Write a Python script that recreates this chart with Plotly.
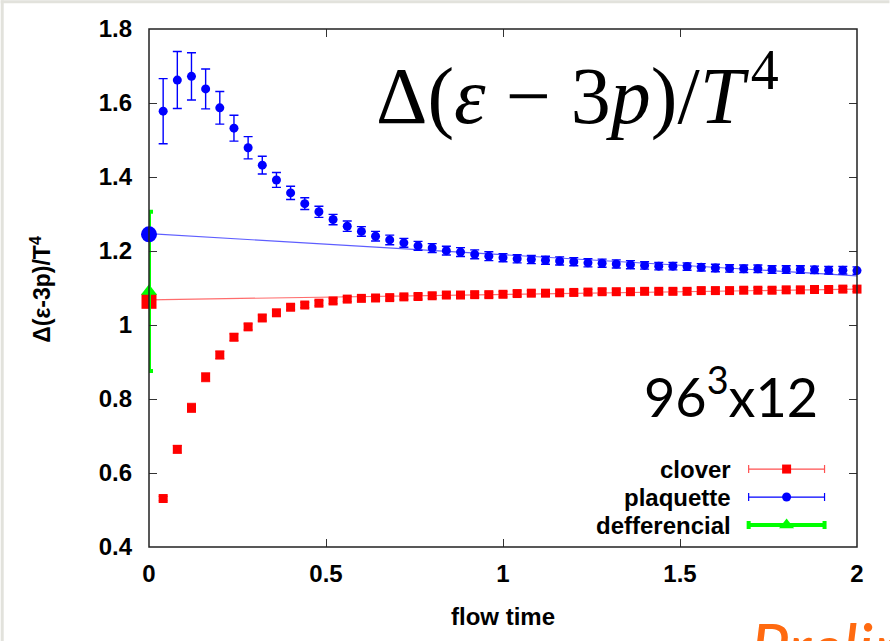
import plotly.graph_objects as go

# ---- data ---------------------------------------------------------------
flow_time = [0.04, 0.08, 0.12, 0.16, 0.20, 0.24, 0.28, 0.32, 0.36, 0.40,
             0.44, 0.48, 0.52, 0.56, 0.60, 0.64, 0.68, 0.72, 0.76, 0.80,
             0.84, 0.88, 0.92, 0.96, 1.00, 1.04, 1.08, 1.12, 1.16, 1.20,
             1.24, 1.28, 1.32, 1.36, 1.40, 1.44, 1.48, 1.52, 1.56, 1.60,
             1.64, 1.68, 1.72, 1.76, 1.80, 1.84, 1.88, 1.92, 1.96, 2.00]

plaquette = [1.578, 1.662, 1.672, 1.638, 1.587, 1.532, 1.479, 1.432, 1.392, 1.357,
             1.328, 1.306, 1.285, 1.267, 1.253, 1.240, 1.230, 1.222, 1.214, 1.208,
             1.201, 1.197, 1.191, 1.186, 1.182, 1.179, 1.177, 1.175, 1.173, 1.171,
             1.168, 1.167, 1.165, 1.163, 1.161, 1.159, 1.159, 1.158, 1.156, 1.154,
             1.153, 1.152, 1.152, 1.150, 1.150, 1.150, 1.149, 1.148, 1.148, 1.147]
plaquette_err = [0.088, 0.077, 0.064, 0.054, 0.044, 0.035, 0.030, 0.024, 0.020, 0.018,
                 0.016, 0.015, 0.014, 0.014, 0.013, 0.013, 0.013, 0.012, 0.012, 0.012,
                 0.012, 0.012, 0.012, 0.012, 0.011, 0.011, 0.011, 0.011, 0.011, 0.011,
                 0.011, 0.011, 0.011, 0.011, 0.010, 0.010, 0.010, 0.010, 0.010, 0.010,
                 0.010, 0.010, 0.010, 0.010, 0.010, 0.010, 0.010, 0.010, 0.010, 0.010]

clover = [0.531, 0.664, 0.776, 0.859, 0.919, 0.967, 0.995, 1.019, 1.033, 1.048,
          1.054, 1.059, 1.065, 1.070, 1.072, 1.073, 1.074, 1.076, 1.077, 1.079,
          1.081, 1.081, 1.082, 1.082, 1.083, 1.085, 1.086, 1.086, 1.087, 1.088,
          1.089, 1.090, 1.090, 1.090, 1.091, 1.091, 1.091, 1.091, 1.093, 1.093,
          1.093, 1.094, 1.094, 1.094, 1.095, 1.095, 1.096, 1.096, 1.097, 1.097]
clover_err = [0.006, 0.010, 0.012, 0.012, 0.010, 0.009, 0.008, 0.008, 0.008, 0.007,
              0.007, 0.007, 0.007, 0.007, 0.007, 0.007, 0.007, 0.007, 0.007, 0.007,
              0.007, 0.007, 0.007, 0.007, 0.007, 0.007, 0.007, 0.007, 0.007, 0.007,
              0.007, 0.007, 0.007, 0.007, 0.007, 0.007, 0.007, 0.007, 0.007, 0.007,
              0.007, 0.007, 0.007, 0.007, 0.007, 0.007, 0.007, 0.007, 0.007, 0.007]

# linear fits and their t -> 0 extrapolations
fit_t = [0.0, 2.0]
plaquette_fit = [1.247, 1.133]
clover_fit = [1.068, 1.097]

extrap_t = [0.0]
plaquette_extrap = [1.245]
clover_extrap = [1.064]
differential = [1.091]
differential_err = [0.215]

legend_names = ["clover", "plaquette", "defferencial"]

x_ticks = [0, 0.5, 1, 1.5, 2]
y_ticks = [0.4, 0.6, 0.8, 1.0, 1.2, 1.4, 1.6, 1.8]

# ---- geometry -----------------------------------------------------------
W, H = 890, 641
ML, MR, MT, MB = 148.5, 32.5, 28.7, 94
PW, PH = W - ML - MR, H - MT - MB


def px(x):
    return (x - ML) / PW


def py(y):
    return (H - MB - y) / PH


RED = "#ff0000"
BLUE = "#0000ff"
GREEN = "#00ff00"
SANS = "Liberation Sans, Arial, sans-serif"
TICK_FONT = dict(family=SANS, size=24, color="#000", weight="bold")
LABEL_FONT = dict(family=SANS, size=24, color="#000", weight="bold")

fig = go.Figure()

# fit lines
fig.add_trace(go.Scatter(x=fit_t, y=plaquette_fit, mode="lines",
                         line=dict(color="rgba(40,40,255,0.75)", width=1.2),
                         hoverinfo="skip", showlegend=False))
fig.add_trace(go.Scatter(x=fit_t, y=clover_fit, mode="lines",
                         line=dict(color="rgba(255,60,60,0.75)", width=1.2),
                         hoverinfo="skip", showlegend=False))

# lattice data
fig.add_trace(go.Scatter(x=flow_time, y=plaquette, mode="markers",
                         marker=dict(symbol="circle", size=9, color=BLUE),
                         error_y=dict(type="data", array=plaquette_err, color=BLUE,
                                      thickness=1.4, width=4.5),
                         cliponaxis=False, showlegend=False))
fig.add_trace(go.Scatter(x=flow_time, y=clover, mode="markers",
                         marker=dict(symbol="square", size=9, color=RED),
                         error_y=dict(type="data", array=clover_err, color="#ff4040",
                                      thickness=1.2, width=4.5),
                         cliponaxis=False, showlegend=False))

# extrapolated values at t = 0
fig.add_trace(go.Scatter(x=extrap_t, y=clover_extrap, mode="markers",
                         marker=dict(symbol="square", size=15, color=RED),
                         cliponaxis=False, showlegend=False))
fig.add_trace(go.Scatter(x=extrap_t, y=differential, mode="markers",
                         marker=dict(symbol="triangle-up", size=14, color=GREEN),
                         error_y=dict(type="data", array=differential_err, color=GREEN,
                                      thickness=4, width=4),
                         cliponaxis=False, showlegend=False))
fig.add_trace(go.Scatter(x=extrap_t, y=plaquette_extrap, mode="markers",
                         marker=dict(symbol="circle", size=16, color=BLUE),
                         cliponaxis=False, showlegend=False))

# key samples drawn on an overlay axis spanning the plot area in [0, 1]
key_x = px(787)
key_half = 38 / PW
key_rows = [py(469), py(497), py(525)]
key_styles = [
    dict(symbol="square", size=9, color=RED, ecol="#ff5050", th=1.2, w=4),
    dict(symbol="circle", size=9, color=BLUE, ecol=BLUE, th=1.2, w=4),
    dict(symbol="triangle-up", size=13, color=GREEN, ecol=GREEN, th=4, w=4),
]
for name, ky, st in zip(legend_names, key_rows, key_styles):
    fig.add_trace(go.Scatter(
        x=[key_x], y=[ky], mode="markers", xaxis="x2", yaxis="y2",
        marker=dict(symbol=st["symbol"], size=st["size"], color=st["color"]),
        error_x=dict(type="constant", value=key_half, color=st["ecol"],
                     thickness=st["th"], width=st["w"]),
        cliponaxis=False, showlegend=False, hoverinfo="skip"))

annotations = []
for name, ky in zip(legend_names, key_rows):
    annotations.append(dict(xref="paper", yref="paper", x=px(733), y=ky,
                            xanchor="right", yanchor="middle", showarrow=False,
                            text=name, font=LABEL_FONT))

# plot title formula
annotations.append(dict(
    xref="paper", yref="paper", x=px(578), y=py(90),
    xanchor="center", yanchor="middle", showarrow=False,
    text="Δ(<i>ε</i> − 3<i>p</i>)/<i>T</i>\u200a<sup>4</sup>",
    font=dict(family="Liberation Serif, Times New Roman, serif", size=80, color="#000")))

# lattice size
annotations.append(dict(
    xref="paper", yref="paper", x=px(731), y=py(393),
    xanchor="center", yanchor="middle", showarrow=False,
    text="96<sup>3</sup>x12",
    font=dict(family="Lato, sans-serif", size=54, color="#000")))

# y-axis title
annotations.append(dict(
    xref="paper", yref="paper", x=px(40), y=py(289),
    xanchor="center", yanchor="middle", showarrow=False, textangle=-90,
    text="Δ(ε-3p)/T<sup>4</sup>",
    font=dict(family=SANS, size=23, color="#000", weight="bold")))

# x-axis title
annotations.append(dict(
    xref="paper", yref="paper", x=px(503), y=py(617),
    xanchor="center", yanchor="middle", showarrow=False,
    text="flow time", font=LABEL_FONT))

# stamp at the bottom edge
annotations.append(dict(
    xref="paper", yref="paper", x=px(748), y=py(604),
    xanchor="left", yanchor="top", showarrow=False,
    text="<i>Preliminary</i>",
    font=dict(family="Lato, sans-serif", size=68, color="#ff6a10")))

shapes = [
    # slide frame edges
    dict(type="rect", xref="paper", yref="paper", x0=px(0), x1=px(3),
         y0=py(H), y1=py(0), fillcolor="#e2e2dc", line=dict(width=0), layer="below"),
    dict(type="rect", xref="paper", yref="paper", x0=px(0), x1=px(W),
         y0=py(3), y1=py(0), fillcolor="#e2e2dc", line=dict(width=0), layer="below"),
    # plot border
    dict(type="rect", xref="paper", yref="paper", x0=0, x1=1, y0=0, y1=1,
         line=dict(color="#222", width=1.5), layer="above"),
]

axis_common = dict(showgrid=False, zeroline=False, ticks="inside", ticklen=8,
                   tickwidth=1.2, tickcolor="#333", mirror="ticks", showline=False,
                   automargin=False, tickfont=TICK_FONT)

fig.update_layout(
    width=W, height=H,
    margin=dict(l=ML, r=MR, t=MT, b=MB, pad=0),
    paper_bgcolor="#ffffff", plot_bgcolor="#ffffff",
    xaxis=dict(range=[0, 2], tickvals=x_ticks, ticktext=["0", "0.5", "1", "1.5", "2"],
               ticklabelstandoff=10, **axis_common),
    yaxis=dict(range=[0.4, 1.8], tickvals=y_ticks,
               ticktext=["0.4", "0.6", "0.8", "1", "1.2", "1.4", "1.6", "1.8"],
               ticklabelstandoff=16, **axis_common),
    xaxis2=dict(range=[0, 1], overlaying="x", visible=False),
    yaxis2=dict(range=[0, 1], overlaying="y", visible=False),
    annotations=annotations,
    shapes=shapes,
    showlegend=False,
)

fig.write_html("out.html")
